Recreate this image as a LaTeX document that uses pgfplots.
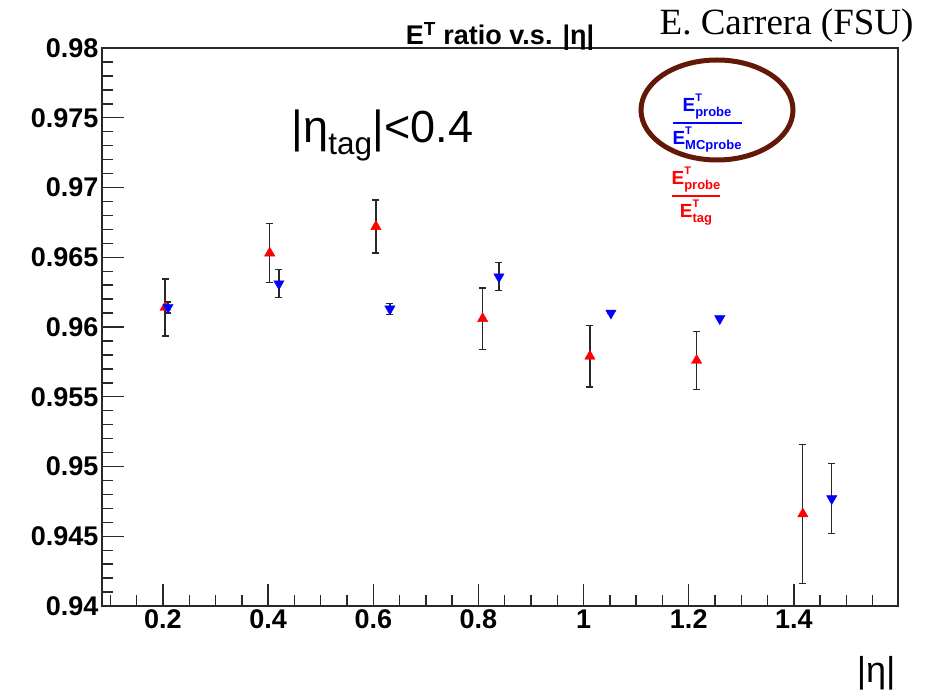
\documentclass[border=0pt]{standalone}
\usepackage{amsmath}
\usepackage{fontspec}
\setmainfont{Liberation Sans}
\newfontfamily\seriffont{Liberation Serif}
\usepackage{pgfplots}
\pgfplotsset{compat=1.18}
\definecolor{circbrown}{RGB}{100,25,8}
\definecolor{framegray}{RGB}{40,40,40}
% E with superscript T and a subscript, as in the ROOT legend
\newcommand{\ET}[1]{\hbox{E\rlap{\raisebox{10pt}{\fontsize{11}{11}\selectfont T}}\raisebox{-5pt}{\fontsize{13}{13}\selectfont #1}}}

\begin{document}
\begin{tikzpicture}
\path[use as bounding box] (0pt,0pt) rectangle (927pt,697pt);
\begin{axis}[
    at={(102pt,91pt)}, anchor=south west,
    width=796pt, height=558pt, scale only axis,
    xmin=0.084, xmax=1.598,
    ymin=0.94, ymax=0.98,
    xtick={0,0.2,0.4,0.6,0.8,1,1.2,1.4,1.6},
    ytick={0.94,0.945,0.95,0.955,0.96,0.965,0.97,0.975,0.98},
    minor x tick num=3,
    minor y tick num=4,
    tick align=inside,
    xtick pos=bottom, ytick pos=left,
    major tick length=22pt, minor tick length=11pt,
    tick style={framegray, line width=1.4pt},
    axis line style={framegray, line width=1.6pt},
    /pgf/number format/assume math mode=true,
    ticklabel style={font=\fontsize{27}{30}\selectfont\bfseries},
    xticklabel style={/pgf/number format/.cd, fixed, precision=1},
    yticklabel style={/pgf/number format/.cd, fixed, precision=3},
    clip=false,
]
% E^T_probe / E^T_tag (red)
\addplot[red, only marks, mark=triangle*, mark size=6pt,
    error bars/.cd, y dir=both, y explicit,
    error bar style={framegray, line width=1.3pt},
    error mark options={framegray, line width=1.3pt, mark size=3.5pt, rotate=90}]
coordinates {
    (0.204,0.9614) +- (0,0.00205)
    (0.403,0.9653) +- (0,0.0021)
    (0.605,0.9672) +- (0,0.0019)
    (0.808,0.9606) +- (0,0.0022)
    (1.012,0.9579) +- (0,0.0022)
    (1.215,0.9576) +- (0,0.0021)
    (1.417,0.9466) +- (0,0.0050)
};
% E^T_probe / E^T_MCprobe (blue)
\addplot[blue, only marks, mark=triangle*, mark size=6pt, mark options={rotate=180},
    error bars/.cd, y dir=both, y explicit,
    error bar style={framegray, line width=1.3pt},
    error mark options={framegray, line width=1.3pt, mark size=3.5pt, rotate=90}]
coordinates {
    (0.2095,0.9614) +- (0,0.0004)
    (0.4205,0.9631) +- (0,0.0010)
    (0.6316,0.9613) +- (0,0.0004)
    (0.839,0.9636) +- (0,0.0010)
    (1.052,0.9610) +- (0,0.0)
    (1.259,0.9606) +- (0,0.0)
    (1.472,0.9477) +- (0,0.0025)
};
\end{axis}

% title and annotations
\node[anchor=base, font=\fontsize{27}{30}\selectfont\bfseries] at (500pt,652pt)
    {E\textsuperscript{T} ratio v.s. |η|};
\node[anchor=base east, font=\fontsize{37}{40}\selectfont\seriffont] at (917pt,662pt)
    {E. Carrera (FSU)};
\node[anchor=base west, font=\fontsize{45}{50}\selectfont] at (288pt,554pt)
    {|η\textsubscript{tag}|<0.4};
\node[anchor=base east, font=\fontsize{36}{40}\selectfont] at (899pt,15pt)
    {|η|};

% legend entries as fractions
\node[blue, font=\fontsize{19}{21}\selectfont\bfseries, inner sep=0pt] at (707pt,574pt)
    {$\genfrac{}{}{2.5pt}{1}{\ET{probe}}{\ET{MCprobe}}$};
\node[red, font=\fontsize{19}{21}\selectfont\bfseries, inner sep=0pt] at (696pt,501pt)
    {$\genfrac{}{}{2.5pt}{1}{\ET{probe}}{\ET{tag}}$};
% circle around the blue entry
\draw[circbrown, line width=5pt] (717pt,587pt) ellipse [x radius=76pt, y radius=50pt];
\end{tikzpicture}
\end{document}
